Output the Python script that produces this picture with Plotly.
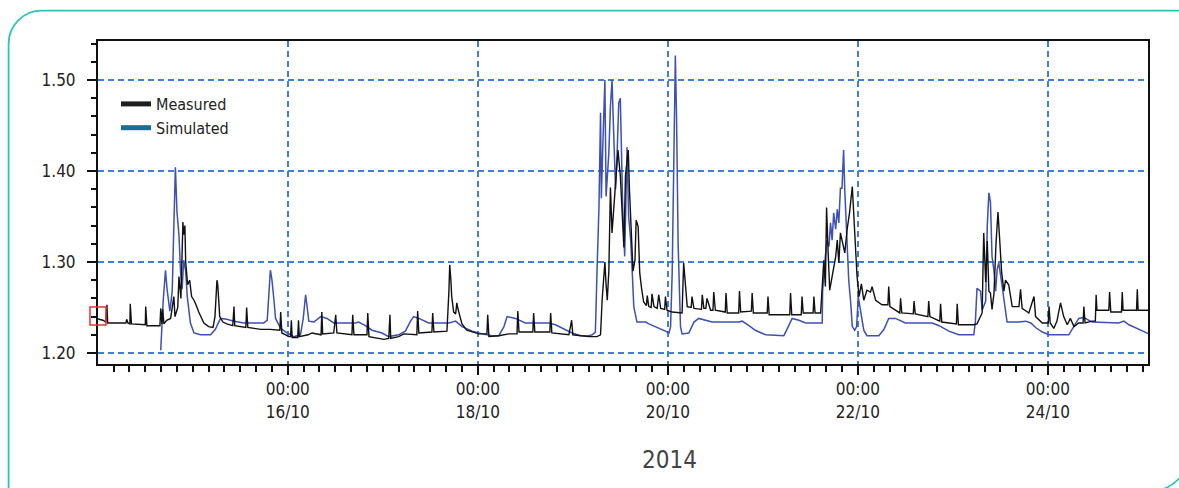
import pandas as pd
import plotly.graph_objects as go

START = pd.Timestamp("2014-10-14 00:00")

MEAS_HOURS = [
    -0.5, 1.3, 2.0, 2.3, 2.5, 7.1, 7.3, 7.6, 8.1, 8.2, 8.5, 12.0, 12.1, 12.4,
    15.7, 15.9, 16.2, 16.4, 16.7, 17.4, 18.4, 19.2, 19.5, 20.2, 20.5, 21.0,
    21.5, 21.7, 22.0, 22.2, 22.7, 23.2, 23.7, 24.3, 24.8, 25.5, 26.8, 28.0,
    29.1, 29.6, 30.1, 30.3, 30.8, 31.6, 32.6, 34.1, 34.4, 34.6, 37.4, 37.6,
    37.9, 41.2, 43.5, 46.0, 46.2, 46.5, 48.3, 48.7, 48.9, 49.1, 50.5, 50.7,
    50.9, 53.1, 54.1, 55.8, 56.4, 56.6, 56.8, 59.6, 60.1, 60.4, 64.2, 64.4,
    64.7, 68.0, 68.2, 68.5, 71.0, 72.3, 73.5, 73.8, 74.0, 76.0, 77.3, 80.6,
    80.8, 81.1, 84.4, 84.6, 84.9, 88.2, 88.7, 88.9, 89.2, 89.4, 89.9, 90.4,
    90.7, 90.9, 91.5, 92.0, 93.2, 94.7, 96.3, 98.3, 98.5, 98.8, 101.3, 103.8,
    105.9, 106.1, 106.4, 109.9, 110.1, 110.4, 114.2, 114.4, 114.7, 119.0,
    119.7, 120.0, 124.0, 126.1, 127.0, 127.4, 128.1, 128.4, 128.7, 129.1,
    129.5, 129.9, 130.4, 130.9, 131.4, 132.0, 132.5, 132.9, 133.3, 134.0,
    134.3, 134.8, 135.2, 135.7, 136.0, 136.5, 136.9, 137.4, 137.9, 138.6,
    138.8, 139.2, 139.8, 140.0, 140.5, 141.3, 141.7, 142.2, 143.2, 143.4,
    143.8, 145.1, 147.6, 148.0, 148.5, 148.9, 149.9, 150.1, 150.6, 152.5,
    152.7, 153.1, 153.6, 153.9, 154.8, 155.4, 155.6, 156.0, 158.5, 158.7,
    159.0, 161.9, 162.1, 162.4, 165.1, 165.3, 165.6, 169.1, 169.3, 169.6,
    174.8, 175.0, 175.3, 177.7, 177.9, 178.2, 180.7, 180.9, 181.2, 182.6,
    183.0, 183.4, 183.8, 184.1, 184.5, 184.9, 185.5, 186.4, 186.8, 187.2,
    187.6, 188.2, 188.7, 189.3, 189.9, 190.6, 191.0, 191.4, 191.8, 192.3,
    192.9, 193.5, 194.3, 195.2, 195.6, 196.5, 197.3, 198.1, 199.6, 199.8,
    200.1, 202.6, 202.8, 203.1, 206.0, 206.2, 206.5, 209.7, 209.9, 210.2,
    212.7, 212.9, 213.2, 216.9, 217.1, 217.4, 221.3, 222.1, 223.4, 223.8,
    224.3, 224.7, 225.1, 225.5, 225.9, 226.4, 226.9, 227.4, 227.8, 228.3,
    228.9, 229.3, 230.1, 230.6, 231.0, 232.7, 233.1, 233.5, 235.2, 236.5,
    236.9, 238.6, 240.1, 240.3, 240.6, 241.5, 242.3, 243.2, 244.0, 244.9,
    245.7, 246.6, 247.8, 248.9, 249.1, 249.4, 251.2, 252.0, 252.2, 252.4,
    253.7, 255.4, 255.6, 255.9, 258.6, 258.8, 259.0, 262.4, 262.6, 262.8,
    265.5,
]
MEAS_VALUES = [
    1.238, 1.236, 1.234, 1.253, 1.233, 1.233, 1.237, 1.233, 1.232, 1.254, 1.232, 1.231, 1.251, 1.230,
    1.230, 1.249, 1.232, 1.248, 1.232, 1.236, 1.238, 1.262, 1.240, 1.250, 1.284, 1.260,
    1.344, 1.330, 1.340, 1.300, 1.275, 1.280, 1.262, 1.258, 1.253, 1.245, 1.233, 1.229,
    1.228, 1.240, 1.280, 1.275, 1.240, 1.234, 1.232, 1.230, 1.251, 1.230, 1.228, 1.250,
    1.228, 1.226, 1.226, 1.225, 1.245, 1.222, 1.218, 1.218, 1.236, 1.217, 1.217, 1.236,
    1.218, 1.220, 1.222, 1.220, 1.220, 1.245, 1.221, 1.222, 1.242, 1.222, 1.220, 1.242,
    1.220, 1.220, 1.244, 1.218, 1.216, 1.215, 1.216, 1.242, 1.216, 1.218, 1.221, 1.220,
    1.246, 1.222, 1.223, 1.244, 1.223, 1.224, 1.268, 1.297, 1.280, 1.262, 1.245, 1.243,
    1.255, 1.250, 1.240, 1.232, 1.225, 1.223, 1.221, 1.221, 1.242, 1.218, 1.219, 1.221,
    1.221, 1.246, 1.223, 1.223, 1.244, 1.223, 1.223, 1.244, 1.222, 1.220,
    1.236, 1.220, 1.218, 1.218, 1.220, 1.258, 1.300, 1.275, 1.258, 1.290,
    1.382, 1.332, 1.366, 1.395, 1.423, 1.395, 1.343, 1.316, 1.395, 1.423,
    1.380, 1.326, 1.290, 1.302, 1.346, 1.339, 1.288, 1.270, 1.256, 1.252,
    1.263, 1.251, 1.250, 1.265, 1.251, 1.249, 1.264, 1.249, 1.248, 1.262,
    1.247, 1.245, 1.244, 1.299, 1.266, 1.251, 1.250, 1.262, 1.249, 1.248,
    1.264, 1.249, 1.249, 1.260, 1.247, 1.247, 1.267, 1.247, 1.245, 1.266,
    1.244, 1.244, 1.268, 1.245, 1.246, 1.266, 1.244, 1.244, 1.262, 1.242,
    1.242, 1.266, 1.242, 1.242, 1.262, 1.244, 1.244, 1.262, 1.244, 1.244,
    1.273, 1.302, 1.273, 1.360, 1.310, 1.269, 1.284, 1.306, 1.324, 1.299,
    1.332, 1.321, 1.310, 1.336, 1.354, 1.383, 1.350, 1.310, 1.284, 1.262,
    1.276, 1.258, 1.269, 1.267, 1.273, 1.258, 1.255, 1.253, 1.253, 1.273,
    1.251, 1.244, 1.260, 1.244, 1.243, 1.257, 1.243, 1.240, 1.257, 1.240,
    1.235, 1.254, 1.234, 1.232, 1.254, 1.231, 1.231, 1.232, 1.244, 1.332,
    1.278, 1.323, 1.268, 1.266, 1.248, 1.266, 1.320, 1.355, 1.327, 1.290,
    1.268, 1.280, 1.275, 1.259, 1.251, 1.251, 1.270, 1.249, 1.244, 1.262,
    1.240, 1.233, 1.233, 1.251, 1.233, 1.227, 1.235, 1.255, 1.240, 1.231,
    1.238, 1.229, 1.233, 1.233, 1.251, 1.233, 1.235, 1.235, 1.264, 1.247,
    1.247, 1.247, 1.267, 1.245, 1.245, 1.267, 1.247, 1.247, 1.270, 1.247,
    1.247,
]

SIM_HOURS = [
    15.9, 16.5, 17.1, 17.5, 18.2, 18.8, 19.2, 19.6, 20.0, 20.5, 20.9, 21.3,
    21.7, 22.2, 22.6, 23.4, 24.3, 26.0, 28.5, 29.7, 31.0, 32.6, 34.4, 36.9,
    41.9, 42.8, 43.6, 44.0, 44.5, 44.9, 46.2, 47.8, 49.5, 51.2, 51.9, 52.5,
    52.9, 53.3, 54.6, 56.3, 57.9, 59.6, 65.1, 65.9, 67.6, 69.3, 71.8, 73.5,
    76.0, 77.7, 79.0, 79.8, 81.1, 83.6, 88.7, 90.4, 92.0, 94.6, 97.1, 99.6,
    101.3, 102.6, 103.4, 105.5, 108.0, 113.9, 115.6, 117.3, 119.8, 121.9,
    124.0, 124.9, 125.7, 126.1, 126.6, 127.0, 127.2, 127.6, 128.1, 128.4,
    129.1, 129.5, 129.9, 130.4, 130.8, 131.2, 131.6, 132.0, 132.3, 132.6,
    133.1, 133.7, 134.1, 134.6, 135.0, 135.4, 136.2, 138.4, 139.2, 140.9,
    143.4, 144.3, 144.7, 145.1, 145.5, 145.9, 146.2, 146.6, 147.2, 147.6,
    149.3, 150.6, 151.8, 153.5, 155.2, 161.9, 162.8, 164.5, 166.1, 168.7,
    173.3, 174.1, 175.4, 177.1, 178.8, 183.0, 183.1, 183.7, 184.2, 184.7,
    185.1, 185.5, 185.9, 186.4, 186.8, 187.2, 187.6, 188.0, 188.4, 188.7,
    189.3, 189.7, 190.2, 190.6, 191.2, 191.7, 192.1, 192.7, 193.5, 194.3,
    197.3, 198.6, 199.8, 201.5, 204.0, 210.8, 212.5, 215.0, 217.5, 221.3,
    221.7, 222.1, 223.0, 223.4, 224.3, 224.7, 225.1, 225.5, 225.9, 226.4,
    226.8, 227.2, 227.6, 228.4, 229.3, 229.7, 232.7, 234.4, 235.7, 236.9,
    238.6, 240.3, 245.3, 246.6, 247.8, 249.1, 251.2, 257.9, 259.2, 260.5,
    263.0, 265.5,
]
SIM_VALUES = [
    1.203, 1.256, 1.291, 1.270, 1.246, 1.268, 1.338, 1.404, 1.355, 1.330, 1.290, 1.270,
    1.302, 1.290, 1.262, 1.233, 1.222, 1.220, 1.220, 1.226, 1.238, 1.237, 1.235, 1.233,
    1.233, 1.236, 1.291, 1.280, 1.258, 1.238, 1.227, 1.222, 1.218, 1.220, 1.238, 1.264,
    1.250, 1.235, 1.234, 1.240, 1.238, 1.233, 1.233, 1.234, 1.230, 1.225, 1.222, 1.218,
    1.220, 1.224, 1.235, 1.240, 1.238, 1.233, 1.233, 1.235, 1.229, 1.224, 1.221, 1.219,
    1.219, 1.229, 1.240, 1.238, 1.233, 1.233, 1.231, 1.227, 1.222, 1.219,
    1.219, 1.220, 1.223, 1.288, 1.360, 1.464, 1.370, 1.431, 1.500, 1.372,
    1.420, 1.471, 1.500, 1.431, 1.380, 1.420, 1.475, 1.480, 1.396, 1.360,
    1.306, 1.426, 1.350, 1.325, 1.290, 1.251, 1.234, 1.234, 1.232, 1.229,
    1.224, 1.222, 1.229, 1.288, 1.387, 1.527, 1.460, 1.320, 1.229, 1.221,
    1.222, 1.234, 1.238, 1.236, 1.234, 1.234, 1.235, 1.230, 1.225, 1.220,
    1.219, 1.226, 1.238, 1.236, 1.233, 1.233, 1.268, 1.302, 1.324, 1.317,
    1.343, 1.324, 1.354, 1.336, 1.358, 1.343, 1.381, 1.381, 1.423, 1.379,
    1.324, 1.280, 1.255, 1.229, 1.225, 1.229, 1.262, 1.247, 1.225, 1.219,
    1.219, 1.226, 1.238, 1.238, 1.233, 1.233, 1.230, 1.224, 1.220, 1.220,
    1.235, 1.271, 1.268, 1.247, 1.257, 1.340, 1.376, 1.366, 1.306, 1.290,
    1.268, 1.292, 1.299, 1.275, 1.247, 1.234, 1.234, 1.235, 1.233, 1.228,
    1.223, 1.220, 1.220, 1.229, 1.238, 1.239, 1.234, 1.233, 1.235, 1.231,
    1.226, 1.221,
]

SERIES_NAMES = ["Measured", "Simulated"]
Y_TICKS = [1.20, 1.30, 1.40, 1.50]
X_TITLE = "2014"

meas_t = START + pd.to_timedelta(MEAS_HOURS, unit="h")
sim_t = START + pd.to_timedelta(SIM_HOURS, unit="h")

FONT = "Liberation Sans Narrow, DejaVu Sans Condensed, Roboto Condensed, Arial Narrow, sans-serif"
W, H = 1179, 488
L, R, T, B = 98, 1148, 41, 364


def px(x):
    return (x - L) / (R - L)


def py(y):
    return (B - y) / (B - T)


fig = go.Figure()
fig.add_trace(go.Scatter(x=sim_t, y=SIM_VALUES, mode="lines",
                         line=dict(color="#3d50b4", width=1.5), showlegend=False))
fig.add_trace(go.Scatter(x=meas_t, y=MEAS_VALUES, mode="lines",
                         line=dict(color="#111111", width=1.4), showlegend=False))
# legend entries
fig.add_trace(go.Scatter(x=[None], y=[None], mode="lines", name=SERIES_NAMES[0],
                         line=dict(color="#1e1e1e", width=5)))
fig.add_trace(go.Scatter(x=[None], y=[None], mode="lines", name=SERIES_NAMES[1],
                         line=dict(color="#157090", width=5)))

grid = dict(showgrid=True, gridcolor="#3f80d4", gridwidth=1.5, griddash="6px,4px")

fig.update_xaxes(
    type="date",
    range=[START + pd.Timedelta(hours=0.05), START + pd.Timedelta(hours=265.3)],
    tick0="2014-10-16", dtick=2 * 86400000, tickformat="%H:%M<br>%d/%m",
    ticks="outside", ticklen=9, tickwidth=2, tickcolor="#111",
    minor=dict(tick0="2014-10-14", dtick=4 * 3600000, ticks="outside", ticklen=6,
               tickwidth=1.5, tickcolor="#111", showgrid=False),
    showline=True, linecolor="#111", linewidth=2, mirror=True,
    tickfont=dict(family=FONT, size=17, color="#222"),
    zeroline=False, **grid,
)
fig.update_yaxes(
    range=[1.1879, 1.5429], tickmode="array", tickvals=Y_TICKS,
    ticktext=[f"{v:.2f}" for v in Y_TICKS],
    ticks="outside", ticklen=9, tickwidth=2, tickcolor="#111",
    ticklabelstandoff=8,
    minor=dict(tick0=1.20, dtick=0.02, ticks="outside", ticklen=5, tickwidth=1.5,
               tickcolor="#111", showgrid=False),
    showline=True, linecolor="#111", linewidth=2, mirror=True,
    tickfont=dict(family=FONT, size=17, color="#222"),
    zeroline=False, **grid,
)

# outer teal frame: rounded top-left corner, top edge running to the right edge,
# and a rounded bottom-right corner just peeking in (pixel coordinates)
r = 33
k = 0.5523 * r
x0, y0 = 8.6, 10.7
pts = [
    ("M", [(x0, 500)]),
    ("L", [(x0, y0 + r)]),
    ("C", [(x0, y0 + r - k), (x0 + r - k, y0), (x0 + r, y0)]),
    ("L", [(1179, y0)]),
]
pts2 = [
    ("M", [(1160.0, 490.0)]),
    ("C", [(1166.5, 488.5), (1173.0, 485.0), (1179.0, 478.5)]),
]


def to_path(items):
    s = ""
    for cmd, ps in items:
        s += cmd + " " + " ".join(f"{px(a):.5f},{py(b):.5f}" for a, b in ps) + " "
    return s


for p in (to_path(pts), to_path(pts2)):
    fig.add_shape(type="path", path=p, xref="paper", yref="paper",
                  fillcolor="rgba(0,0,0,0)",
                  line=dict(color="#2cc3bd", width=1.8), layer="above")

# small red marker box on the y axis
fig.add_shape(type="rect", xref="paper", yref="paper",
              x0=px(90), x1=px(106), y0=py(325), y1=py(307),
              line=dict(color="#e23232", width=1.5), layer="above")

fig.add_annotation(text=X_TITLE, xref="paper", yref="paper", x=px(669), y=py(460),
                   showarrow=False, xanchor="center", yanchor="middle",
                   font=dict(family=FONT, size=24, color="#444"))

fig.update_layout(
    width=W, height=H,
    margin=dict(l=L, r=W - R, t=T, b=H - B),
    paper_bgcolor="white", plot_bgcolor="white",
    legend=dict(x=px(116), y=py(87), xanchor="left", yanchor="top",
                bgcolor="rgba(0,0,0,0)", tracegroupgap=0, itemwidth=30,
                font=dict(family=FONT, size=16, color="#222")),
    showlegend=True,
)

fig.write_html(
    "out.html",
    config={"displayModeBar": False},
    post_script="document.body.style.margin='0';document.body.style.overflow='hidden';",
)
